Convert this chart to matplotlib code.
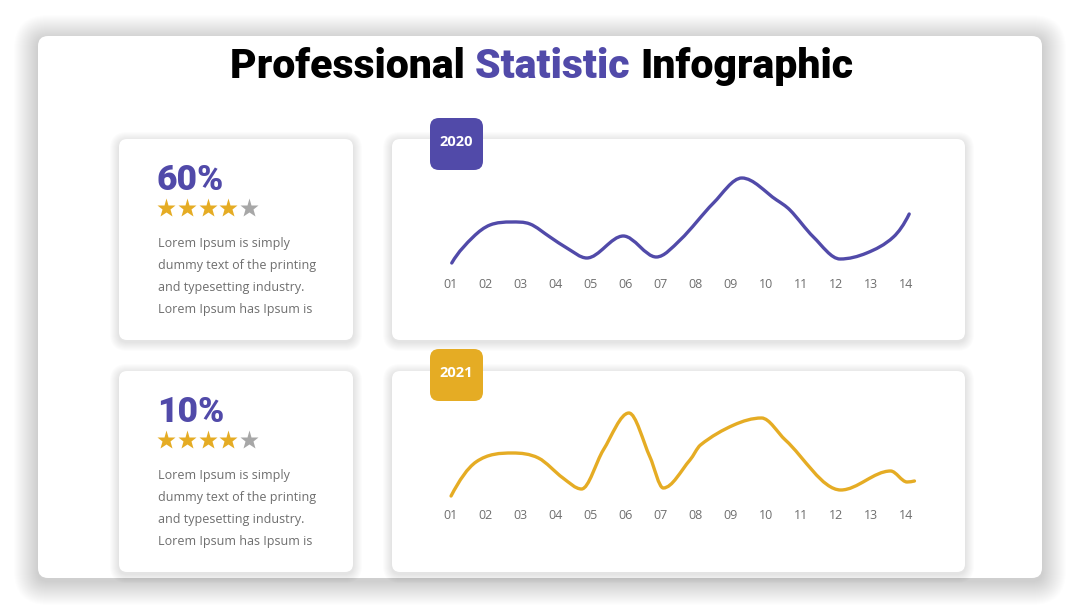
import numpy as np
import matplotlib
matplotlib.use("Agg")
import matplotlib.pyplot as plt
from matplotlib.patches import FancyBboxPatch, PathPatch
from matplotlib.path import Path

# ---- data ----
months = ["01", "02", "03", "04", "05", "06", "07", "08", "09", "10", "11", "12", "13", "14"]

# 2020 curve: knots (month position, value)
x_2020 = [1.05, 1.66, 2.14, 2.75, 3.28, 3.85, 4.33, 4.90, 5.94, 6.88, 7.56, 8.51, 9.32, 10.31,
          10.69, 11.36, 12.12, 12.88, 13.64, 14.09]
y_2020 = [12, 38, 50, 53, 51, 38, 27, 17, 39, 18, 35, 72, 97, 75, 65, 38, 16, 22, 38, 61]

# 2021 curve
x_2021 = [1.03, 1.74, 2.78, 3.52, 4.22, 4.75, 5.37, 6.10, 6.70, 7.08, 7.84, 8.14, 9.09, 9.88,
          10.56, 12.14, 13.56, 14.03, 14.24]
y_2021 = [10, 44, 53, 48, 28, 17, 56, 93, 49, 18, 46, 61, 81, 88, 66, 16, 35, 24, 25]

percents = ["60%", "10%"]
stars_on = [4, 4]
years = ["2020", "2021"]
blurb = ["Lorem Ipsum is simply", "dummy text of the printing",
         "and typesetting industry.", "Lorem Ipsum has Ipsum is"]

PURPLE = "#514aa9"
GOLD = "#e5ac24"
GREY_TXT = "#6e6e6e"

W, H = 1080, 608


def smooth_path(xs, ys):
    # cubic through the knots, flat at peaks/troughs, drawn as bezier segments
    x = np.asarray(xs, float)
    y = np.asarray(ys, float)
    h = np.diff(x)
    d = np.diff(y) / h
    m = np.zeros_like(y)
    for k in range(1, len(x) - 1):
        if d[k - 1] * d[k] > 0:
            m[k] = (y[k + 1] - y[k - 1]) / (x[k + 1] - x[k - 1])
    m[0] = d[0] * 1.4
    m[-1] = d[-1] * 1.4
    verts = [(x[0], y[0])]
    codes = [Path.MOVETO]
    for i in range(len(x) - 1):
        dx = h[i]
        verts += [(x[i] + dx / 3, y[i] + m[i] * dx / 3),
                  (x[i + 1] - dx / 3, y[i + 1] - m[i + 1] * dx / 3),
                  (x[i + 1], y[i + 1])]
        codes += [Path.CURVE4] * 3
    return Path(verts, codes)


def rounded(ax, x, y, w, h, r, color, z, alpha=1.0):
    ax.add_patch(FancyBboxPatch((x, y), w, h, boxstyle=f"round,pad=0,rounding_size={r}",
                                fc=color, ec="none", alpha=alpha, zorder=z))


def shadow(ax, x, y, w, h, r, spread, z, strength=0.01, dy=2):
    for i in range(spread, 0, -1):
        rounded(ax, x - i, y - i + dy, w + 2 * i, h + 2 * i, r + i, "black", z, alpha=strength)


fig = plt.figure(figsize=(10.8, 6.08), dpi=100)
bg = fig.add_axes([0, 0, 1, 1])
bg.set_xlim(0, W)
bg.set_ylim(H, 0)
bg.axis("off")

# outer panel
shadow(bg, 38, 36, 1004, 542, 10, 24, 1, strength=0.009, dy=3)
rounded(bg, 38, 36, 1004, 542, 10, "white", 2)

# cards
cards = [(119, 139, 234, 201), (392, 139, 573, 201), (119, 371, 234, 201), (392, 371, 573, 201)]
for (cx, cy, cw, ch) in cards:
    shadow(bg, cx, cy, cw, ch, 8, 9, 3, strength=0.011, dy=2)
    rounded(bg, cx, cy, cw, ch, 8, "white", 4)

# title, three coloured pieces centred on the panel
title_parts = [("Professional ", "black"), ("Statistic ", PURPLE), ("Infographic", "black")]
tfont = dict(family=["Roboto", "DejaVu Sans"], weight="black", fontsize=29.5)
renderer = fig.canvas.get_renderer()
texts = []
for s, c in title_parts:
    t = bg.text(0, 67, s, color=c, va="center", ha="left", zorder=5, **tfont)
    texts.append(t)
widths = [t.get_window_extent(renderer).width for t in texts]
x0 = 541.5 - sum(widths) / 2
for t, w in zip(texts, widths):
    t.set_x(x0)
    x0 += w

# left info cards
for k, top in enumerate([139, 371]):
    bg.text(157, top + 42, percents[k], color=PURPLE, fontsize=25.5, weight="black",
            family=["Roboto", "DejaVu Sans"], va="center", ha="left", zorder=5)
    sx = [166, 187, 207.5, 228, 249]
    for j, xs in enumerate(sx):
        bg.plot(xs, top + 69, marker="*", ms=14, mec="none",
                color=GOLD if j < stars_on[k] else "#a7a7a7", zorder=5)
    for j, line in enumerate(blurb):
        bg.text(158, top + 104 + j * 22, line, color=GREY_TXT, fontsize=9,
                family=["Open Sans", "DejaVu Sans"], va="center", ha="left", zorder=5)

# year badges
for k, (top, col) in enumerate([(118, PURPLE), (349, GOLD)]):
    rounded(bg, 430, top, 53, 52, 9, col, 6)
    bg.text(456.5, top + 24, years[k], color="white", fontsize=10.5, weight="bold",
            family=["Open Sans", "DejaVu Sans"], ha="center", va="center", zorder=7)

# the two line charts
series = [(x_2020, y_2020, PURPLE, 139, 275), (x_2021, y_2021, GOLD, 371, 506)]
px_per_month = 35.08
for xs, ys, col, top, base in series:
    ax = fig.add_axes([392 / W, 1 - (top + 201) / H, 573 / W, 201 / H], zorder=8)
    ax.patch.set_alpha(0)
    ax.set_xlim(1 - (450 - 392) / px_per_month, 1 + (965 - 450) / px_per_month)
    ax.set_ylim(base - (top + 201), base - top)
    ax.add_patch(PathPatch(smooth_path(xs, ys), fc="none", ec=col, lw=2.4,
                           capstyle="round", joinstyle="round"))
    for s in ax.spines.values():
        s.set_visible(False)
    ax.spines["bottom"].set_position(("data", 0))
    ax.set_xticks(range(1, 15))
    ax.set_xticklabels(months, color="#6f6f6f", fontsize=9,
                       family=["Open Sans", "DejaVu Sans"])
    ax.tick_params(axis="x", length=0, pad=2)
    ax.set_yticks([])

fig.savefig("out.png", dpi=100, facecolor="white")
